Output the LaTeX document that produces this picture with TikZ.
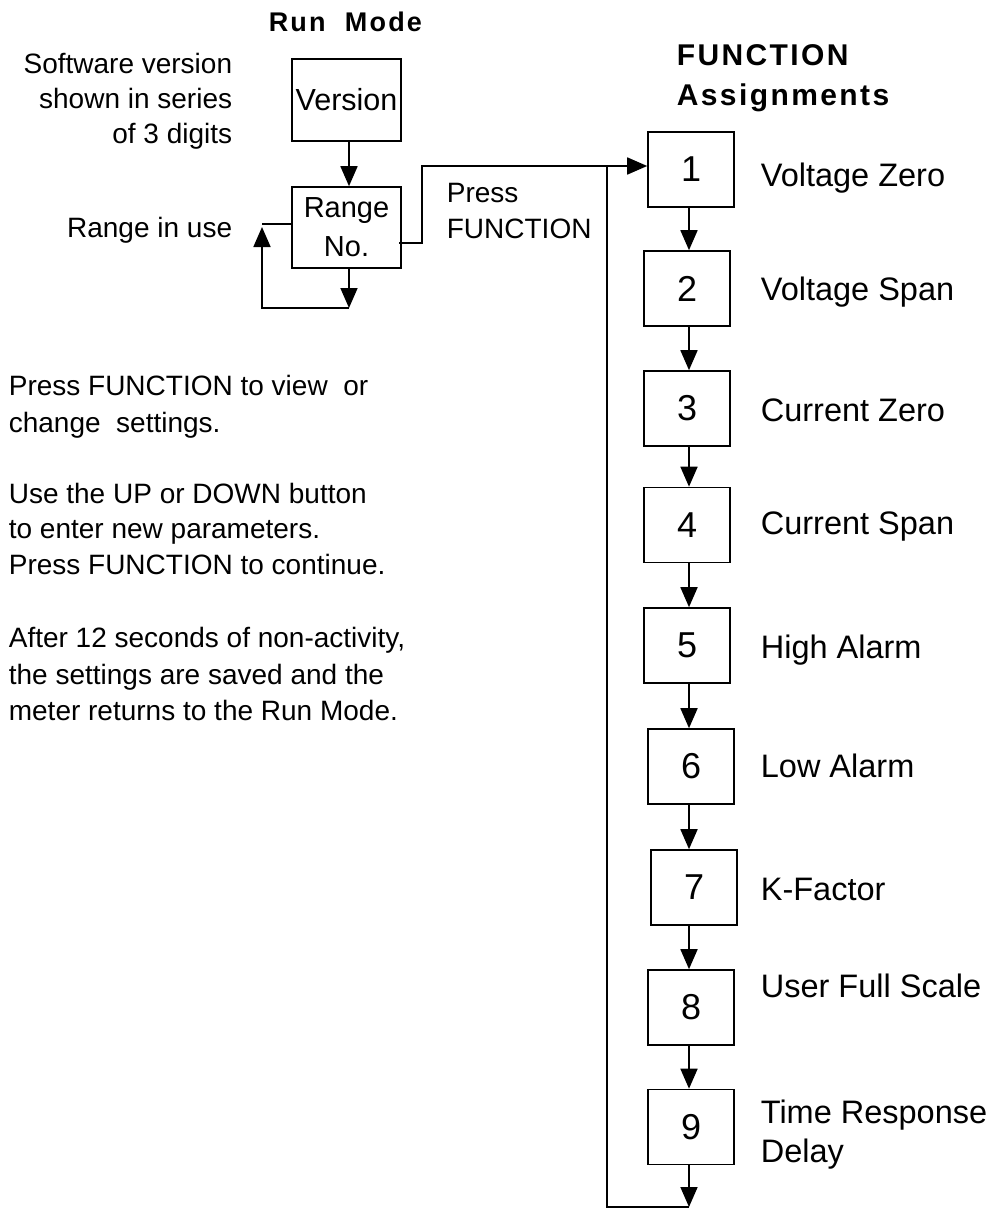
\documentclass[tikz,border=0pt]{standalone}
\usepackage{fontspec}
\setmainfont{Liberation Sans}
\usetikzlibrary{arrows.meta}
\begin{document}
\begin{tikzpicture}[x=1pt,y=-1pt,
  line width=1.7pt,
  box/.style={draw, line width=1.6pt, minimum width=86pt, minimum height=75pt, inner sep=0pt, font=\fontsize{36}{40}\selectfont},
  rbox/.style={draw, line width=1.6pt, minimum width=109pt, minimum height=82pt, inner sep=0pt, align=center, font=\fontsize{29}{39}\selectfont},
  txt/.style={inner sep=0pt, font=\fontsize{28}{34}\selectfont},
  lbl/.style={inner sep=0pt, anchor=base west, font=\fontsize{32.5}{38}\selectfont},
  head/.style={inner sep=0pt, anchor=base west, font=\fontsize{30}{36}\selectfont\bfseries\addfontfeature{LetterSpace=8}},
  arr/.style={-{Triangle[width=17pt,length=20pt]}},
]
\useasboundingbox (0,0) rectangle (993,1209);

% headings
\node[head, font=\fontsize{27}{32}\selectfont\bfseries\addfontfeature{LetterSpace=8}] (runmode) at (268,32) {Run\ \ Mode};
\node[head] (fh1) at (676,66) {FUNCTION};
\node[head] (fh2) at (676,106) {Assignments};

% run mode boxes
\node[rbox, font=\fontsize{30.5}{39}\selectfont] (ver) at (346.5,100) {Version};
\node[rbox, minimum height=81pt] (rng) at (346.5,227.5) {Range\\No.};

\node[txt, anchor=base east] (sw1) at (233,74) {Software version};
\node[txt, anchor=base east] (sw2) at (233,109) {shown in series};
\node[txt, anchor=base east] (sw3) at (233,144) {of 3 digits};
\node[txt, anchor=base east] (riu) at (233,237) {Range in use};

\node[txt, anchor=base west] (pf1) at (446,202) {Press};
\node[txt, anchor=base west] (pf2) at (446,238) {FUNCTION};

% left description
\node[txt, anchor=base west] (d1) at (8,395) {Press FUNCTION to view\ \ or};
\node[txt, anchor=base west] (d2) at (8,432) {change\ \ settings.};
\node[txt, anchor=base west] (d3) at (8,503) {Use the UP or DOWN button};
\node[txt, anchor=base west] (d4) at (8,538) {to enter new parameters.};
\node[txt, anchor=base west] (d5) at (8,574) {Press FUNCTION to continue.};
\node[txt, anchor=base west] (d6) at (8,647) {After 12 seconds of non-activity,};
\node[txt, anchor=base west] (d7) at (8,684) {the settings are saved and the};
\node[txt, anchor=base west] (d8) at (8,720) {meter returns to the Run Mode.};

% function boxes
\node[box] (b1) at (691,169.5) {1};
\node[box] (b2) at (687,288.5) {2};
\node[box] (b3) at (687,408.5) {3};
\node[box] (b4) at (687,525) {4};
\node[box] (b5) at (687,645.5) {5};
\node[box] (b6) at (691,766.5) {6};
\node[box] (b7) at (694,887.5) {7};
\node[box] (b8) at (691,1007.5) {8};
\node[box] (b9) at (691,1127) {9};

% labels
\node[lbl] (l1) at (760,186) {Voltage Zero};
\node[lbl] (l2) at (760,300) {Voltage Span};
\node[lbl] (l3) at (760,421) {Current Zero};
\node[lbl] (l4) at (760,534) {Current Span};
\node[lbl] (l5) at (760,658) {High Alarm};
\node[lbl] (l6) at (760,777) {Low Alarm};
\node[lbl] (l7) at (760,900) {K-Factor};
\node[lbl] (l8) at (760,997) {User Full Scale};
\node[lbl] (l9a) at (760,1123) {Time Response};
\node[lbl] (l9b) at (760,1162) {Delay};

% coordinates
\coordinate (col) at (689,0);
\coordinate (col2) at (349,0);
\coordinate (rl) at (349,308);
\coordinate (rlc) at (262,308);
\coordinate (rlt) at (262,227);
\coordinate (rin) at (262,224);
\coordinate (pfs) at (399,243);
\coordinate (pfa) at (422,243);
\coordinate (pfb) at (422,166);
\coordinate (end) at (689,1207);
\coordinate (lc) at (607,1207);
\coordinate (lt) at (607,166);

% run mode connectors
\draw[arr] (ver.south -| col2) -- (rng.north -| col2);
\draw[arr] (rng.south -| col2) -- (rl);
\draw[arr] (rl) -- (rlc) -- (rlt);
\draw (rin) -- (rng.west |- rin);
\draw[arr] (pfs) -- (pfa) -- (pfb) -- (b1.west |- pfb);

% function chain
\foreach \i/\j in {1/2,2/3,3/4,4/5,5/6,6/7,7/8,8/9}
  \draw[arr] (b\i.south -| col) -- (b\j.north -| col);
\draw[arr] (b9.south -| col) -- (end);
\draw (end) -- (lc) -- (lt);
\end{tikzpicture}
\end{document}
